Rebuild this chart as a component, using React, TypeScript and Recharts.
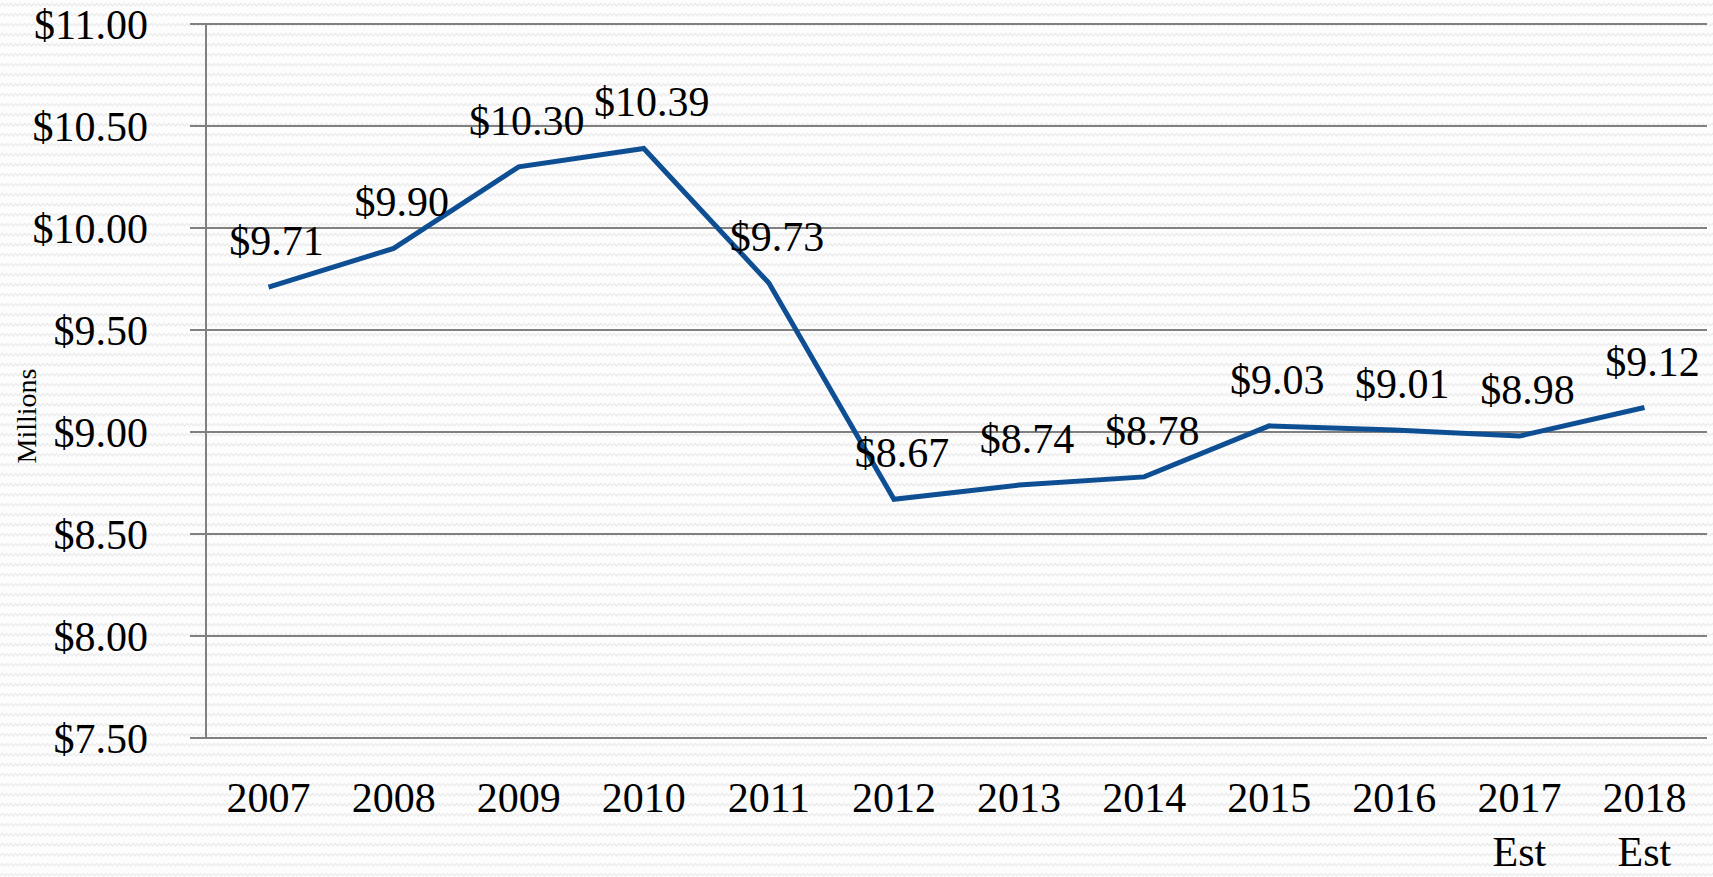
import React from 'react';
import { LineChart, Line, XAxis, YAxis, CartesianGrid, LabelList } from 'recharts';

const years = ['2007', '2008', '2009', '2010', '2011', '2012', '2013', '2014', '2015', '2016', '2017', '2018'];
const yearNotes = ['', '', '', '', '', '', '', '', '', '', 'Est', 'Est'];
const budget = [9.71, 9.9, 10.3, 10.39, 9.73, 8.67, 8.74, 8.78, 9.03, 9.01, 8.98, 9.12];
const yTicks = [7.5, 8, 8.5, 9, 9.5, 10, 10.5, 11];

const chartData = budget.map((v, i) => ({ idx: i, year: years[i], value: v }));
const yearTicks = years.map((_, i) => i);
const boundaryTicks = [...years.map((_, i) => i - 0.5), years.length - 0.5];

const FONT = '"Liberation Serif", "Times New Roman", serif';
const GRID = '#808080';
const LINE = '#0E4F94';

const bg =
  "url(\"data:image/svg+xml;utf8,<svg xmlns='http://www.w3.org/2000/svg' width='9' height='10'><path d='M0 6 L2.25 3.5 L4.5 6 L6.75 3.5 L9 6' fill='none' stroke='%23ececec' stroke-width='1.2'/></svg>\")";

const money = (v: number) => `$${v.toFixed(2)}`;

const YearTick = (props: any) => {
  const { x, y, payload } = props;
  const i = payload.value as number;
  return (
    <text x={x} y={y} textAnchor="middle" fontFamily={FONT} fontSize={42} fill="#000">
      <tspan x={x} dy={74}>{years[i]}</tspan>
      {yearNotes[i] && <tspan x={x} dy={54}>{yearNotes[i]}</tspan>}
    </text>
  );
};

const renderValue = (props: any) => {
  const { x, y, value } = props;
  return (
    <text x={x + 8} y={y - 32} textAnchor="middle" fontFamily={FONT} fontSize={42} fill="#000">
      {money(value)}
    </text>
  );
};

const renderUnit = (props: any) => {
  const vb = props.viewBox || { x: 0, y: 0, width: 206, height: 714 };
  const cx = vb.x + 26;
  const cy = vb.y + vb.height / 2 + 35;
  return (
    <text
      transform={`translate(${cx},${cy}) rotate(-90)`}
      textAnchor="middle"
      dominantBaseline="central"
      fontFamily={FONT}
      fontSize={28}
      fill="#000"
    >
      Millions
    </text>
  );
};

export default function App() {
  return (
    <div style={{ position: 'absolute', left: 0, top: 0, width: 1713, height: 877, backgroundColor: '#fdfdfd', backgroundImage: bg }}>
      <LineChart width={1713} height={877} data={chartData} margin={{ top: 24, right: 6, left: 0, bottom: 0 }}>
        <CartesianGrid horizontal vertical={false} stroke={GRID} strokeWidth={2} />
        <XAxis
          xAxisId="bounds"
          type="number"
          dataKey="idx"
          domain={[-0.5, years.length - 0.5]}
          ticks={boundaryTicks}
          tick={() => <g />}
          tickSize={15}
          height={0}
          stroke={GRID}
          strokeWidth={2}
          tickLine={{ stroke: GRID, strokeWidth: 2 }}
        />
        <XAxis
          xAxisId="years"
          type="number"
          dataKey="idx"
          domain={[-0.5, years.length - 0.5]}
          ticks={yearTicks}
          interval={0}
          tick={<YearTick />}
          tickLine={false}
          axisLine={false}
          tickSize={0}
          tickMargin={0}
          height={139}
        />
        <YAxis
          domain={[7.5, 11]}
          ticks={yTicks}
          width={206}
          tickSize={16}
          tickMargin={42}
          tickFormatter={money}
          tick={{ fill: '#000', fontSize: 42, fontFamily: FONT }}
          stroke={GRID}
          strokeWidth={2}
          tickLine={{ stroke: GRID, strokeWidth: 2 }}
          label={{ content: renderUnit }}
        />
        <Line
          xAxisId="years"
          type="linear"
          dataKey="value"
          stroke={LINE}
          strokeWidth={5}
          dot={false}
          isAnimationActive={false}
        >
          <LabelList dataKey="value" content={renderValue} />
        </Line>
      </LineChart>
    </div>
  );
}
